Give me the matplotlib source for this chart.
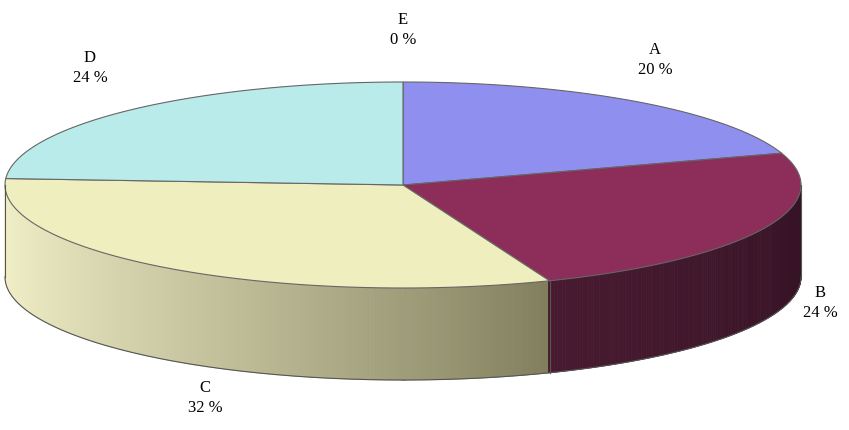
import numpy as np
import matplotlib.pyplot as plt
from matplotlib.patches import Polygon

labels = ["A", "B", "C", "D", "E"]
values = [20, 24, 32, 24, 0]
top_colors = ["#8f8ff0", "#8c2d5a", "#eeeebe", "#b9ebeb", "#ffffff"]

cx, cy, rx, ry, depth = 403, 185, 398, 103, 92

fig = plt.figure(figsize=(8.49, 4.30), dpi=100)
ax = fig.add_axes([0, 0, 1, 1])
ax.set_xlim(0, 849)
ax.set_ylim(430, 0)
ax.axis("off")


def pt(t, dy=0):
    r = np.radians(t)
    return cx + rx * np.cos(r), cy - ry * np.sin(r) + dy


# slice angles, clockwise from top
total = sum(values)
bounds = [90.0]
for v in values:
    bounds.append(bounds[-1] - 360.0 * v / total)

# side wall (front half only), drawn in strips for shading
light = np.array([242, 240, 200]) / 255
dark = np.array([128, 126, 92]) / 255
bl = np.array([72, 26, 48]) / 255
bd = np.array([52, 18, 36]) / 255
b_end = bounds[2]
ts = np.linspace(-180, 0, 400)
for t0, t1 in zip(ts[:-1], ts[1:]):
    tm = (t0 + t1) / 2
    if tm < b_end:
        f = (tm + 180) / (b_end + 180)
        col = light * (1 - f ** 1.5) + dark * f ** 1.5
    else:
        f = (tm - b_end) / (0 - b_end)
        col = bl * (1 - f) + bd * f
    poly = [pt(t0), pt(t1), pt(t1, depth), pt(t0, depth)]
    ax.add_patch(Polygon(poly, closed=True, facecolor=col, edgecolor=col, lw=0.6))

arc = np.linspace(-180, 0, 200)
bx, by = zip(*[pt(t, depth) for t in arc])
ax.plot(bx, by, color="#555555", lw=0.8)
for t in (-180, b_end, 0):
    x0, y0 = pt(t)
    ax.plot([x0, x0], [y0, y0 + depth], color="#555555", lw=0.8)

# top face wedges
for i, v in enumerate(values):
    if v == 0:
        continue
    t = np.linspace(bounds[i], bounds[i + 1], 200)
    pts = [(cx, cy)] + [pt(a) for a in t]
    ax.add_patch(Polygon(pts, closed=True, facecolor=top_colors[i],
                         edgecolor="#666666", lw=0.8))

# labels
label_pos = {"A": (655, 60), "B": (820, 303), "C": (205, 398),
             "D": (90, 68), "E": (403, 30)}
for lab, v in zip(labels, values):
    x, y = label_pos[lab]
    ax.text(x, y, f"{lab}\n{v} %", ha="center", va="center",
            fontsize=12, family="Liberation Serif", linespacing=1.35)

fig.savefig("out.png", dpi=100)
